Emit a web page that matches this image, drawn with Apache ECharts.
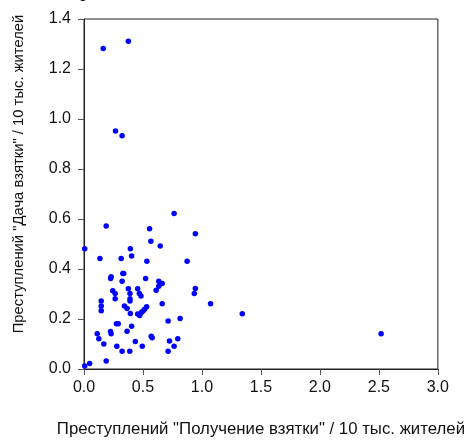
<!DOCTYPE html>
<html>
<head>
<meta charset="utf-8">
<script src="https://cdn.jsdelivr.net/npm/echarts@6/dist/echarts.min.js"></script>
<style>html,body{margin:0;padding:0;background:#fff}#c{width:468px;height:443px}</style>
</head>
<body>
<div id="c"></div>
<script>
var xTicks = [0, 0.5, 1.0, 1.5, 2.0, 2.5, 3.0];
var yTicks = [0, 0.2, 0.4, 0.6, 0.8, 1.0, 1.2, 1.4];
var xName = 'Преступлений "Получение взятки" / 10 тыс. жителей';
var yName = 'Преступлений "Дача взятки" / 10 тыс. жителей';
var topText = 'сравнениям рис. 3 и 4.';
var bribeTaking = [0.163,0.376,0.267,0.323,
 0.764,0.188,0.556,0.944,0.567,0.646,
 0.006,0.393,0.404,0.135,0.315,0.533,0.874,
 0.329,0.337,0.230,0.226,0.522,0.323,0.634,0.663,0.634,
 0.376,0.455,0.944,0.244,0.612,0.264,0.390,0.469,0.483,0.935,
 0.264,0.390,0.390,0.146,0.146,0.146,0.343,0.365,0.663,1.073,
 0.455,0.472,0.486,0.500,0.514,0.531,0.393,1.342,
 0.713,0.815,0.275,0.290,0.404,0.365,0.225,0.230,0.112,0.126,
 0.570,0.578,0.795,0.168,0.435,0.725,0.278,0.494,0.764,
 0.323,0.388,0.713,0.188,0.048,0.006,2.519];
var bribeGiving = [1.282,1.311,0.952,0.933,
 0.622,0.572,0.561,0.541,0.511,0.492,
 0.481,0.481,0.452,0.442,0.442,0.431,0.431,
 0.382,0.382,0.369,0.362,0.362,0.351,0.351,0.342,0.331,
 0.321,0.321,0.322,0.313,0.315,0.302,0.302,0.302,0.292,0.302,
 0.281,0.281,0.272,0.272,0.252,0.233,0.252,0.242,0.261,0.261,
 0.220,0.214,0.226,0.232,0.239,0.249,0.222,0.221,
 0.192,0.202,0.181,0.181,0.171,0.151,0.150,0.141,0.141,0.121,
 0.131,0.125,0.121,0.100,0.110,0.112,0.091,0.091,0.091,
 0.071,0.071,0.071,0.032,0.022,0.012,0.141];

var pts = bribeTaking.map(function(x,i){return [x, bribeGiving[i]];});
var chart = echarts.init(document.getElementById('c'));
var FONT = 'Liberation Sans';
function axisOpts(margin){
  return {
    axisLine:{show:true, onZero:false, lineStyle:{color:'#222', width:1}},
    axisTick:{show:true, inside:false, length:6, lineStyle:{color:'#555', width:1}},
    splitLine:{show:false},
    axisLabel:{color:'#111', fontFamily:FONT, fontSize:16, margin:margin,
      formatter:function(v){return v.toFixed(1);}}
  };
}
var xa = Object.assign({type:'value', min:xTicks[0], max:xTicks[xTicks.length-1], interval:0.5,
    name:xName, nameLocation:'middle', nameGap:52,
    nameTextStyle:{color:'#111', fontFamily:FONT, fontSize:16.8}}, axisOpts(11));
var ya = Object.assign({type:'value', min:yTicks[0], max:yTicks[yTicks.length-1], interval:0.2}, axisOpts(13));
chart.setOption({
  animation:false,
  backgroundColor:'#fff',
  grid:{left:84, right:28, top:19, bottom:69, show:true, borderColor:'#222', borderWidth:1, backgroundColor:'transparent'},
  xAxis:xa,
  yAxis:ya,
  graphic:[
    {type:'text', x:19, y:174, rotation:Math.PI/2,
      style:{text:yName, fill:'#111', fontFamily:FONT, fontSize:14.8, align:'center', verticalAlign:'middle'}},
    {type:'text', x:-30, y:1,
      style:{text:topText, fill:'#000', fontFamily:'Liberation Serif', fontSize:21, align:'left', verticalAlign:'bottom'}}
  ],
  series:[{type:'scatter', data:pts, symbol:'circle', symbolSize:5.5,
    itemStyle:{color:'#0000ff', opacity:1}}]
});
</script>
</body>
</html>
